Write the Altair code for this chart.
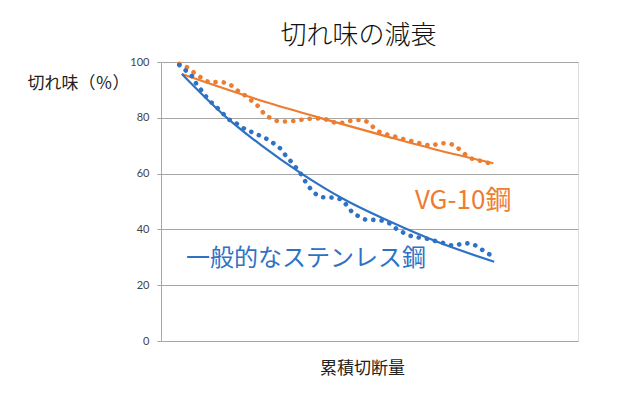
import altair as alt
import pandas as pd

# 実測値(点線) — VG-10鋼
vg_x = [4.4, 6.7, 8.3, 10.0, 11.8, 13.7, 15.8, 17.3, 18.9, 20.6, 22.1, 23.6, 24.8, 26.6, 28.5,
        30.5, 32.5, 34.5, 36.5, 38.5, 40.5, 42.5, 44.4, 46.4, 48.1, 49.9, 51.6, 53.5, 55.3, 57.3,
        59.2, 61.2, 63.1, 64.9, 66.9, 68.9, 70.7, 72.4, 73.9, 75.7, 77.5, 79.4]
vg_y = [99.3, 97.7, 95.7, 94.1, 92.7, 92.8, 92.5, 91.1, 89.1, 87.6, 85.6, 83.7, 81.3, 79.7, 78.7,
        78.7, 79.0, 79.5, 79.7, 79.8, 78.9, 78.1, 78.5, 79.2, 79.2, 78.1, 75.6, 74.3, 73.6, 72.7,
        72.0, 71.2, 70.5, 70.0, 70.9, 70.8, 69.7, 67.6, 65.8, 64.9, 64.3, 63.3]

# 実測値(点線) — 一般的なステンレス鋼
ss_x = [4.4, 6.3, 7.4, 8.4, 9.6, 10.8, 12.3, 13.9, 15.2, 16.5, 18.4, 20.1, 21.9, 23.7, 25.5,
        27.3, 28.8, 29.9, 31.3, 32.5, 33.7, 34.7, 35.9, 37.3, 39.1, 41.1, 43.2, 44.5, 45.8, 47.4,
        49.2, 51.2, 53.2, 55.0, 56.8, 58.5, 60.4, 62.3, 64.3, 66.3, 68.1, 70.1, 72.1, 74.1, 75.9,
        77.7, 79.4]
ss_y = [98.9, 96.5, 95.0, 92.4, 90.0, 87.6, 85.2, 83.0, 81.0, 79.2, 77.7, 76.0, 74.8, 73.6, 72.3,
        70.5, 68.7, 66.5, 64.1, 61.9, 59.5, 57.0, 54.5, 52.5, 51.5, 51.4, 50.7, 48.7, 46.3, 44.7,
        43.5, 43.4, 43.1, 42.0, 39.8, 38.6, 37.4, 37.0, 36.5, 35.6, 35.0, 34.2, 34.8, 35.0, 33.8,
        32.0, 30.5]

# 近似曲線
vg_trend_x = [5.0, 26.1, 40.5, 54.9, 67.0, 79.7]
vg_trend_y = [95.7, 85.2, 79.0, 73.0, 68.2, 63.7]
ss_trend_x = [5.0, 15.2, 24.0, 33.7, 44.1, 54.9, 67.0, 79.9]
ss_trend_y = [95.7, 80.8, 70.2, 60.0, 50.6, 42.8, 35.1, 28.4]

# 系列ラベル
vg_label = ["VG-10鋼"]
vg_label_x = [60.9]
vg_label_y = [50.2]
ss_label = ["一般的なステンレス鋼"]
ss_label_x = [6.0]
ss_label_y = [29.4]

y_ticks = [0, 20, 40, 60, 80, 100]

ORANGE = "#ED7D31"
BLUE = "#2F72C4"
JP = "Noto Sans CJK JP"

vg_df = pd.DataFrame({"x": vg_x, "y": vg_y})
ss_df = pd.DataFrame({"x": ss_x, "y": ss_y})
vgt_df = pd.DataFrame({"x": vg_trend_x, "y": vg_trend_y})
sst_df = pd.DataFrame({"x": ss_trend_x, "y": ss_trend_y})
vgl_df = pd.DataFrame({"x": vg_label_x, "y": vg_label_y, "t": vg_label})
ssl_df = pd.DataFrame({"x": ss_label_x, "y": ss_label_y, "t": ss_label})

xs = alt.Scale(domain=[0, 100], nice=False, zero=False)
ys = alt.Scale(domain=[0, 100], nice=False)

x_enc = alt.X("x:Q", scale=xs, axis=alt.Axis(
    title="累積切断量", labels=False, ticks=False, domain=False, grid=False,
    titleFont=JP, titleFontSize=17, titleFontWeight="normal", titleColor="#222",
    titleX=201, titleY=27, titleBaseline="middle", titleAlign="center"))
y_enc = alt.Y("y:Q", scale=ys, axis=alt.Axis(
    title="切れ味（％）", values=y_ticks, grid=True, gridColor="#a6a6a6",
    domainColor="#a6a6a6", tickColor="#a6a6a6", tickSize=4, labelPadding=8,
    labelFont="Lato", labelFontSize=11, labelColor="#444",
    titleFont=JP, titleFontSize=17, titleFontWeight="normal", titleColor="#222",
    titleAngle=0, titleAlign="left", titleBaseline="middle", titleX=-134, titleY=21))

base_grid = alt.Chart(vg_df).mark_line(opacity=0).encode(x=x_enc, y=y_enc)

def dotted(df, color):
    return alt.Chart(df).mark_line(
        color=color, strokeWidth=4.6, strokeCap="round", strokeDash=[0.1, 8.2],
        interpolate="monotone").encode(x="x:Q", y="y:Q")

def trend(df, color):
    return alt.Chart(df).mark_line(
        color=color, strokeWidth=2.2, interpolate="monotone").encode(x="x:Q", y="y:Q")

def label(df, color, size):
    return alt.Chart(df).mark_text(
        color=color, font=JP, fontSize=size, fontWeight="normal", align="left",
        baseline="middle").encode(x="x:Q", y="y:Q", text="t:N")

chart = alt.layer(
    base_grid,
    dotted(vg_df, ORANGE), trend(vgt_df, ORANGE),
    dotted(ss_df, BLUE), trend(sst_df, BLUE),
    label(vgl_df, ORANGE, 26), label(ssl_df, BLUE, 24),
).properties(
    width=417, height=279,
    title=alt.Title("切れ味の減衰", font=JP, fontSize=26, fontWeight=300, color="#111",
                    anchor="middle", frame="group", dx=-11, offset=6),
    autosize=alt.AutoSizeParams(type="none"),
    padding={"left": 153, "top": 54, "right": 40, "bottom": 40},
).configure_view(stroke="transparent").configure(background="white")

chart.save("out.html", embed_options={"renderer": "svg", "actions": False})
